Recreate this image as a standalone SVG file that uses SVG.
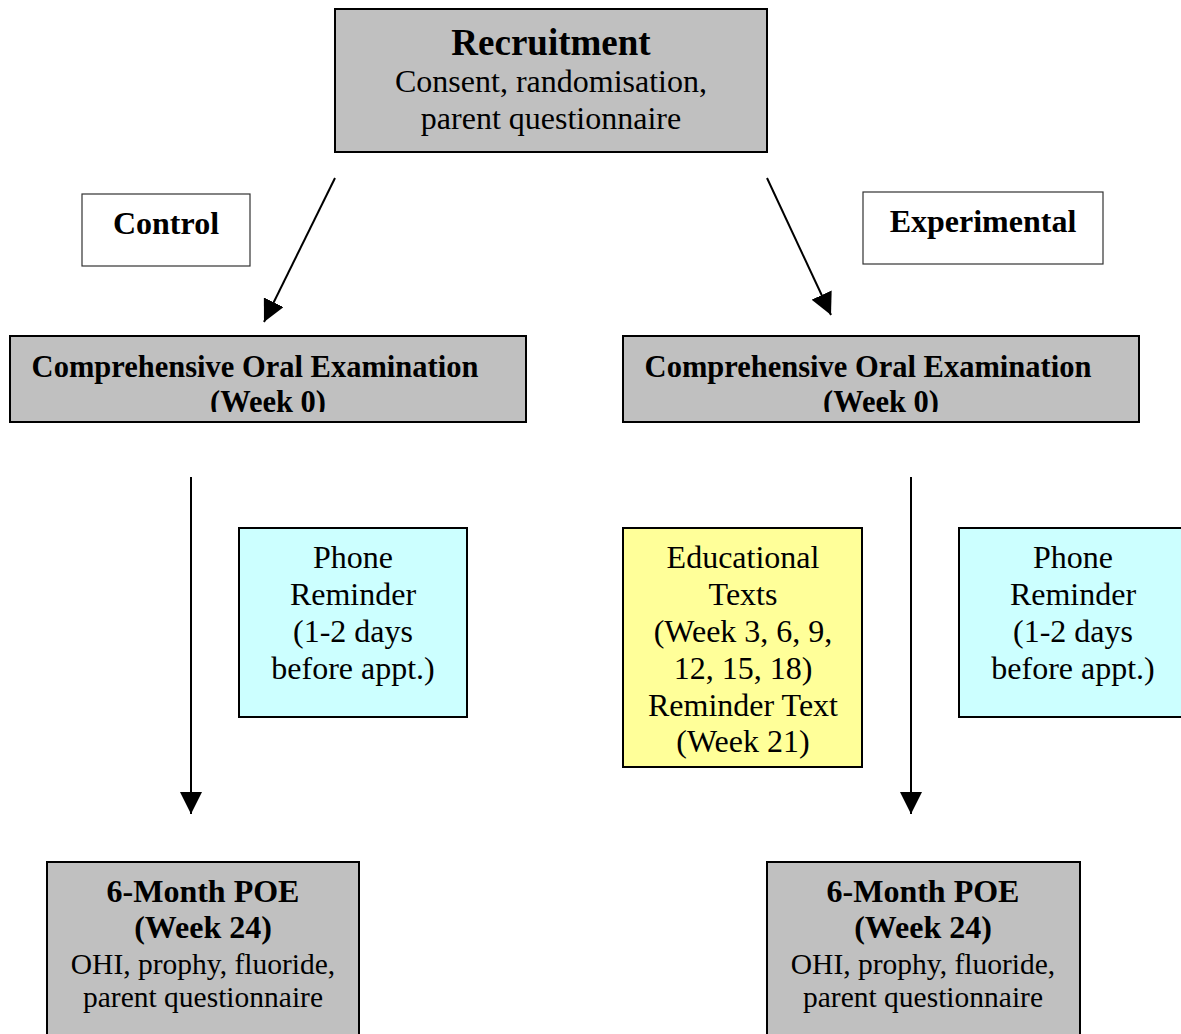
<svg xmlns="http://www.w3.org/2000/svg" width="1181" height="1034" viewBox="0 0 1181 1034">
<style>
text{font-family:"Liberation Serif","Times New Roman",serif;fill:#000;text-anchor:middle}
.b{font-weight:bold}
.t{font-size:37px}
.r{font-size:32px}
.s{font-size:29.5px}
.h{font-size:32px;font-weight:bold}
.c{font-size:30.5px;font-weight:bold}
.gray{fill:#c0c0c0;stroke:#000;stroke-width:2}
.lbl{fill:#fff;stroke:#333;stroke-width:1.2}
.cyan{fill:#ccffff;stroke:#000;stroke-width:2}
.yel{fill:#ffff99;stroke:#000;stroke-width:2}
.conn line{stroke:#000;stroke-width:2}
</style>
<defs>
<marker id="a2" viewBox="0 0 20 20" refX="20" refY="10" markerWidth="22" markerHeight="22" markerUnits="userSpaceOnUse" orient="auto">
<path d="M0,0 L20,10 L0,20 z" fill="#000"/>
</marker>
<clipPath id="c1"><rect x="10" y="336" width="516" height="76"/></clipPath>
<clipPath id="c2"><rect x="623" y="336" width="516" height="76"/></clipPath>
</defs>
<rect width="1181" height="1034" fill="#fff"/>
<g class="conn">
<line x1="335" y1="178" x2="264" y2="322" marker-end="url(#a2)"/>
<line x1="767" y1="178" x2="831" y2="315" marker-end="url(#a2)"/>
<line x1="191" y1="477" x2="191" y2="814" marker-end="url(#a2)"/>
<line x1="911" y1="477" x2="911" y2="814" marker-end="url(#a2)"/>
</g>
<g id="recruitment">
<rect class="gray" x="335" y="9" width="432" height="143"/>
<text class="b t" x="551" y="55">Recruitment</text>
<text class="r" x="551" y="92">Consent, randomisation,</text>
<text class="r" x="551" y="129">parent questionnaire</text>
</g>
<g id="control">
<rect class="lbl" x="82" y="194" width="168" height="72"/>
<text class="h" x="166" y="234">Control</text>
</g>
<g id="experimental">
<rect class="lbl" x="863" y="192" width="240" height="72"/>
<text class="h" x="983" y="232">Experimental</text>
</g>
<g id="coe-left">
<rect class="gray" x="10" y="336" width="516" height="86"/>
<g clip-path="url(#c1)">
<text class="c" x="255" y="377">Comprehensive Oral Examination</text>
<text class="c" x="268" y="412">(Week 0)</text>
</g>
</g>
<g id="coe-right">
<rect class="gray" x="623" y="336" width="516" height="86"/>
<g clip-path="url(#c2)">
<text class="c" x="868" y="377">Comprehensive Oral Examination</text>
<text class="c" x="881" y="412">(Week 0)</text>
</g>
</g>
<g id="phone-left">
<rect class="cyan" x="239" y="528" width="228" height="189"/>
<text class="r" x="353" y="568">Phone</text>
<text class="r" x="353" y="605">Reminder</text>
<text class="r" x="353" y="642">(1-2 days</text>
<text class="r" x="353" y="679">before appt.)</text>
</g>
<g id="edu">
<rect class="yel" x="623" y="528" width="239" height="239"/>
<text class="r" x="743" y="568">Educational</text>
<text class="r" x="743" y="605">Texts</text>
<text class="r" x="743" y="642">(Week 3, 6, 9,</text>
<text class="r" x="743" y="679">12, 15, 18)</text>
<text class="r" x="743" y="716">Reminder Text</text>
<text class="r" x="743" y="752">(Week 21)</text>
</g>
<g id="phone-right">
<rect class="cyan" x="959" y="528" width="228" height="189"/>
<text class="r" x="1073" y="568">Phone</text>
<text class="r" x="1073" y="605">Reminder</text>
<text class="r" x="1073" y="642">(1-2 days</text>
<text class="r" x="1073" y="679">before appt.)</text>
</g>
<g id="poe-left">
<rect class="gray" x="47" y="862" width="312" height="180"/>
<text class="h" x="203" y="902">6-Month POE</text>
<text class="h" x="203" y="938">(Week 24)</text>
<text class="s" x="203" y="974">OHI, prophy, fluoride,</text>
<text class="s" x="203" y="1007">parent questionnaire</text>
</g>
<g id="poe-right">
<rect class="gray" x="767" y="862" width="313" height="180"/>
<text class="h" x="923" y="902">6-Month POE</text>
<text class="h" x="923" y="938">(Week 24)</text>
<text class="s" x="923" y="974">OHI, prophy, fluoride,</text>
<text class="s" x="923" y="1007">parent questionnaire</text>
</g>
</svg>
